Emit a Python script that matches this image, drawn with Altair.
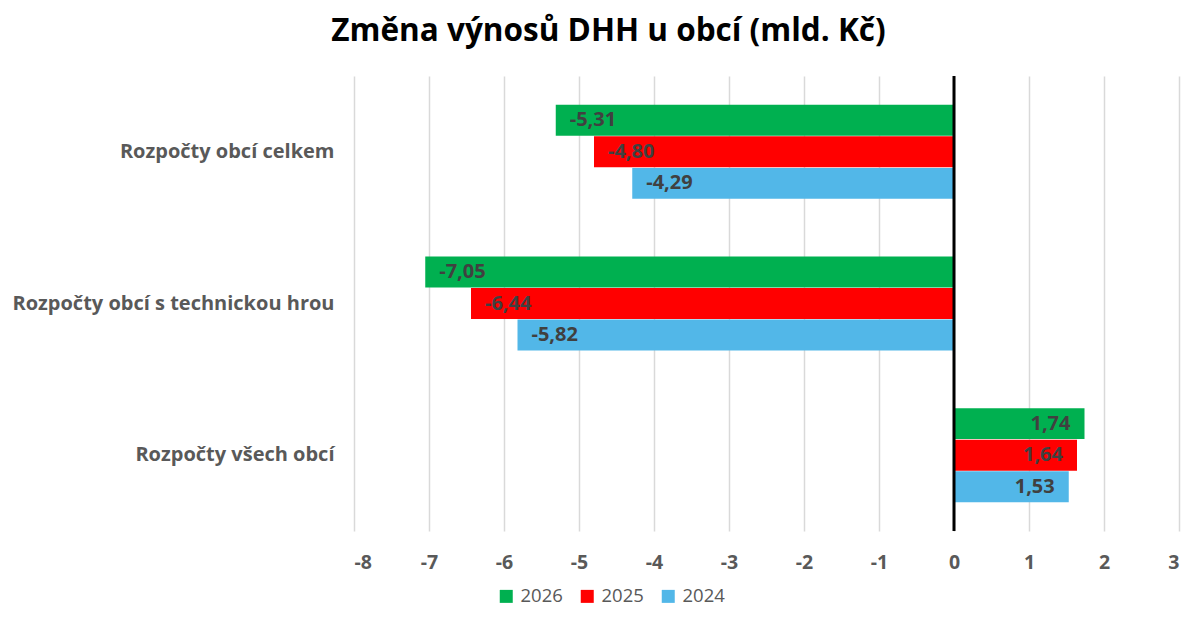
import altair as alt
import pandas as pd

categories = ["Rozpočty obcí celkem", "Rozpočty obcí s technickou hrou", "Rozpočty všech obcí"]
years = ["2026", "2025", "2024"]
v2026 = [-5.31, -7.05, 1.74]
v2025 = [-4.80, -6.44, 1.64]
v2024 = [-4.29, -5.82, 1.53]
colors = ["#00b050", "#ff0000", "#52b7e8"]

rows = []
for yr, vals in zip(years, [v2026, v2025, v2024]):
    for c, v in zip(categories, vals):
        rows.append({"cat": c, "year": yr, "value": v})
df = pd.DataFrame(rows)

FONT = "Open Sans"
GREY = "#595959"

y_enc = alt.Y("cat:N", sort=categories, title=None,
              scale=alt.Scale(paddingInner=0.38, paddingOuter=0.19),
              axis=alt.Axis(labelFont=FONT, labelFontSize=20, labelFontWeight="bold",
                            labelColor=GREY, labelPadding=20, domain=False, ticks=False,
                            grid=False, labelLimit=400))
yoff = alt.YOffset("year:N", sort=years, scale=alt.Scale(paddingInner=0.02))
x_enc = alt.X("value:Q", title=None,
              scale=alt.Scale(domain=[-8, 3], nice=False),
              axis=alt.Axis(values=list(range(-8, 4)), labelExpr="'' + datum.value",
                            labelFont=FONT, labelFontSize=19.5, labelFontWeight="bold",
                            labelColor=GREY, labelPadding=22, domain=False, ticks=False,
                            grid=True, gridColor="#d9d9d9", gridWidth=1.5))

base = alt.Chart(df)

bars = base.mark_bar().encode(
    y=y_enc, yOffset=yoff, x=x_enc,
    color=alt.Color("year:N", sort=years, scale=alt.Scale(domain=years, range=colors),
                    legend=alt.Legend(title=None, orient="none", legendX=143, legendY=511,
                                      direction="horizontal", symbolType="square",
                                      symbolSize=169, symbolStrokeWidth=0,
                                      labelFont=FONT, labelFontSize=18.5, labelColor=GREY,
                                      labelOffset=5, columnPadding=15)),
)

text_common = dict(font=FONT, fontSize=20, fontWeight="bold", color="#404040", baseline="middle")
lab_expr = "replace(replace(format(datum.value, '.2f'), '\u2212', '-'), '.', ',')"

neg_text = base.transform_filter("datum.value < 0").transform_calculate(
    lab=lab_expr
).mark_text(align="left", dx=14, **text_common).encode(
    y=alt.Y("cat:N", sort=categories), yOffset=alt.YOffset("year:N", sort=years),
    x="value:Q", text="lab:N")

pos_text = base.transform_filter("datum.value >= 0").transform_calculate(
    lab=lab_expr
).mark_text(align="right", dx=-14, **text_common).encode(
    y=alt.Y("cat:N", sort=categories), yOffset=alt.YOffset("year:N", sort=years),
    x="value:Q", text="lab:N")

zero = alt.Chart(pd.DataFrame({"z": [0]})).mark_rule(color="black", strokeWidth=3).encode(
    x="z:Q")

chart = alt.layer(bars, neg_text, pos_text, zero).properties(
    width=825, height=455,
    title=alt.Title("Změna výnosů DHH u obcí (mld. Kč)", font=FONT, fontSize=31.5,
                    fontWeight="bold", color="black", anchor="middle", frame="bounds",
                    offset=27, dx=13),
    autosize=alt.AutoSizeParams(type="none"),
    padding={"left": 346, "top": 68, "right": 6, "bottom": 76},
).configure_view(stroke=None)

chart.save("out.html", embed_options={"renderer": "svg", "actions": False})
